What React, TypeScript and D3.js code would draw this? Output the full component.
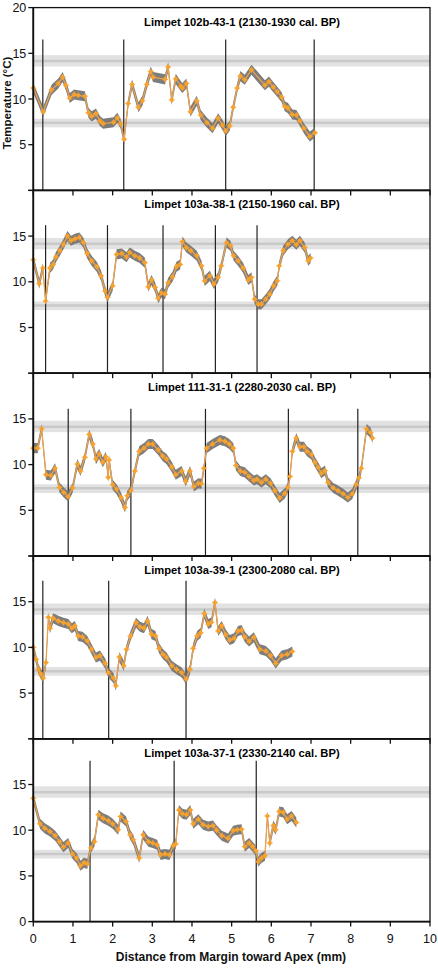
import React from "react";
import * as d3 from "d3";

// distance (mm), temperature (°C)
const limpet102b43 = [
  [0, 11.2], [0.25, 8.6], [0.46, 11.0], [0.63, 11.7], [0.74, 12.4], [0.82, 11.5], [0.92, 10.1],
  [1.03, 10.5], [1.13, 10.4], [1.3, 10.3], [1.39, 8.5], [1.47, 8.1], [1.58, 8.4], [1.68, 7.6],
  [1.76, 7.3], [2.02, 7.45], [2.12, 7.95], [2.2, 7.3], [2.29, 5.6], [2.39, 9.5], [2.49, 11.6],
  [2.65, 9.1], [2.75, 9.8], [2.86, 11.6], [2.96, 13.0], [3.02, 12.4], [3.32, 12.15], [3.4, 13.5],
  [3.49, 9.9], [3.59, 12.2], [3.72, 11.4], [3.76, 11.2], [3.86, 11.7], [3.96, 8.6], [4.12, 9.8],
  [4.22, 8.25], [4.38, 7.4], [4.52, 6.8], [4.66, 7.9], [4.77, 7.15], [4.85, 6.5], [4.95, 7.05],
  [5.04, 9.1], [5.14, 11.2], [5.22, 12.5], [5.33, 12.1], [5.5, 13.2], [5.84, 11.5], [5.94, 11.9],
  [6.05, 11.3], [6.15, 10.8], [6.26, 10.2], [6.34, 9.2], [6.42, 9.0], [6.53, 8.3], [6.63, 8.25],
  [6.72, 7.6], [6.82, 6.8], [6.97, 5.9], [7.1, 6.3],
];
const limpet103a38 = [
  [0, 12.4], [0.15, 9.8], [0.24, 11.5], [0.31, 7.9], [0.42, 11.5], [0.5, 11.9], [0.57, 12.7],
  [0.67, 13.4], [0.76, 14.1], [0.86, 15.0], [0.95, 14.5], [1.05, 14.7], [1.16, 14.85], [1.26, 14.3],
  [1.36, 13.1], [1.47, 12.3], [1.6, 11.65], [1.71, 10.65], [1.81, 9.0], [1.87, 8.3], [2.0, 9.55],
  [2.1, 13.0], [2.23, 13.1], [2.35, 12.7], [2.43, 13.2], [2.56, 12.85], [2.68, 12.6], [2.81, 12.1],
  [2.9, 9.45], [2.98, 10.2], [3.07, 9.4], [3.15, 8.2], [3.23, 8.8], [3.32, 8.65], [3.4, 9.9],
  [3.51, 10.55], [3.61, 11.65], [3.7, 11.9], [3.76, 14.4], [3.86, 13.75], [3.97, 13.4], [4.12, 12.85],
  [4.24, 11.75], [4.32, 10.1], [4.45, 10.65], [4.55, 9.75], [4.66, 10.5], [4.74, 11.75], [4.87, 14.3],
  [4.97, 13.95], [5.05, 12.85], [5.16, 12.3], [5.29, 11.5], [5.42, 10.2], [5.5, 10.5], [5.58, 8.1],
  [5.67, 7.55], [5.75, 7.55], [5.86, 8.1], [5.96, 8.65], [6.06, 9.55], [6.15, 10.1], [6.2, 11.75],
  [6.3, 13.4], [6.42, 14.1], [6.53, 14.5], [6.63, 14.05], [6.72, 14.5], [6.84, 13.75], [6.93, 12.3],
  [6.99, 12.6],
];
const limpet111_31 = [
  [0, 11.8], [0.11, 11.8], [0.21, 13.9], [0.32, 8.9], [0.44, 8.8], [0.55, 9.6], [0.66, 7.5],
  [0.77, 6.95], [0.88, 6.5], [0.99, 7.45], [1.11, 10.05], [1.19, 9.3], [1.3, 10.8], [1.41, 13.3],
  [1.5, 12.25], [1.58, 10.6], [1.66, 11.15], [1.75, 10.25], [1.83, 10.85], [1.89, 8.6], [1.91, 10.5],
  [2.0, 7.8], [2.1, 7.3], [2.21, 6.4], [2.31, 5.3], [2.37, 6.6], [2.46, 7.15], [2.56, 9.3],
  [2.67, 11.45], [2.79, 11.8], [2.9, 12.25], [3.01, 12.25], [3.15, 11.6], [3.26, 10.95], [3.36, 10.6],
  [3.49, 9.75], [3.59, 8.9], [3.74, 9.3], [3.84, 8.15], [3.95, 9.3], [4.05, 7.6], [4.16, 7.95],
  [4.24, 7.9], [4.3, 9.6], [4.37, 11.8], [4.52, 12.25], [4.7, 12.7], [4.83, 12.55], [4.94, 12.25],
  [5.04, 11.8], [5.11, 9.9], [5.22, 9.3], [5.33, 9.15], [5.44, 8.7], [5.56, 8.25], [5.64, 8.4],
  [5.75, 8.05], [5.86, 8.4], [5.98, 7.95], [6.09, 7.15], [6.21, 6.35], [6.34, 6.85], [6.42, 7.5],
  [6.47, 8.7], [6.53, 11.45], [6.63, 12.9], [6.72, 11.95], [6.82, 11.95], [6.9, 11.45], [7.01, 11.1],
  [7.1, 10.25], [7.18, 9.7], [7.26, 9.05], [7.35, 9.35], [7.43, 8.05], [7.56, 7.45], [7.68, 7.15],
  [7.81, 6.8], [7.93, 6.4], [8.04, 6.8], [8.14, 7.8], [8.21, 8.55], [8.27, 9.6], [8.4, 13.9],
  [8.5, 13.5], [8.55, 12.9],
];
const limpet103a39 = [
  [0, 10.0], [0.07, 8.7], [0.13, 7.6], [0.19, 7.1], [0.25, 6.65], [0.32, 8.35], [0.38, 13.3],
  [0.42, 12.1], [0.5, 13.2], [0.63, 12.9], [0.76, 12.7], [0.88, 12.55], [0.97, 12.1], [1.05, 12.35],
  [1.13, 11.25], [1.24, 11.15], [1.36, 10.7], [1.47, 9.8], [1.58, 8.9], [1.68, 9.1], [1.81, 8.25],
  [1.89, 7.25], [2.02, 6.65], [2.08, 5.8], [2.17, 8.95], [2.28, 8.0], [2.35, 9.8], [2.45, 11.25],
  [2.59, 12.7], [2.69, 12.25], [2.79, 12.1], [2.88, 12.9], [2.98, 11.45], [3.08, 11.25], [3.17, 9.9],
  [3.27, 9.25], [3.36, 8.9], [3.49, 8.0], [3.61, 7.6], [3.74, 7.25], [3.85, 6.55], [3.95, 7.6],
  [4.03, 9.9], [4.13, 11.25], [4.22, 11.6], [4.31, 13.7], [4.41, 12.55], [4.49, 12.75], [4.58, 14.9],
  [4.66, 11.8], [4.75, 12.35], [4.85, 11.4], [4.95, 10.8], [5.06, 11.0], [5.16, 11.8], [5.25, 11.9],
  [5.33, 11.15], [5.44, 10.65], [5.56, 11.1], [5.71, 9.8], [5.86, 9.6], [5.98, 9.1], [6.11, 8.25],
  [6.26, 9.1], [6.4, 9.25], [6.53, 9.55],
];
const limpet103a37 = [
  [0, 13.5], [0.17, 10.7], [0.29, 10.2], [0.42, 9.85], [0.55, 9.4], [0.66, 8.75], [0.76, 8.15],
  [0.88, 8.6], [0.99, 7.4], [1.09, 6.95], [1.19, 6.1], [1.28, 6.45], [1.36, 6.3], [1.45, 8.05],
  [1.54, 8.75], [1.64, 11.7], [1.76, 11.3], [1.89, 11.05], [2.0, 10.7], [2.14, 10.05], [2.2, 11.5],
  [2.34, 10.95], [2.44, 9.5], [2.52, 8.95], [2.67, 6.95], [2.77, 9.5], [2.9, 8.75], [3.01, 8.6],
  [3.12, 8.4], [3.21, 7.3], [3.32, 7.4], [3.43, 7.3], [3.53, 8.3], [3.59, 8.5], [3.67, 12.2],
  [3.76, 11.8], [3.86, 11.7], [3.96, 12.2], [4.03, 10.7], [4.16, 11.2], [4.28, 10.6], [4.41, 10.4],
  [4.53, 10.5], [4.62, 10.0], [4.75, 9.4], [4.91, 9.1], [5.04, 9.95], [5.14, 10.05], [5.25, 10.1],
  [5.33, 8.2], [5.44, 8.6], [5.53, 8.2], [5.61, 7.75], [5.67, 6.55], [5.75, 6.95], [5.84, 7.2],
  [5.9, 11.55], [5.96, 8.6], [6.05, 10.5], [6.11, 10.05], [6.2, 12.05], [6.3, 11.95], [6.4, 11.2],
  [6.51, 11.55], [6.63, 10.85],
];

const titles = [
  "Limpet 102b-43-1 (2130-1930 cal. BP)",
  "Limpet 103a-38-1 (2150-1960 cal. BP)",
  "Limpet 111-31-1 (2280-2030 cal. BP)",
  "Limpet 103a-39-1 (2300-2080 cal. BP)",
  "Limpet 103a-37-1 (2330-2140 cal. BP)",
];
const series = [limpet102b43, limpet103a38, limpet111_31, limpet103a39, limpet103a37];
// annual growth-line positions (mm) and how high each line is drawn (°C)
const growthLines = [
  [0.24, 2.28, 4.85, 7.08],
  [0.31, 1.87, 3.27, 4.59, 5.64],
  [0.88, 2.46, 4.34, 6.43, 8.18],
  [0.24, 1.9, 3.85],
  [1.43, 3.55, 5.62],
];
const growthLineTop = [16.5, 16.2, 16.1, 17.3, 17.6];
// reference temperature bands (°C)
const bands = [
  [13.55, 14.15, 14.8],
  [6.9, 7.4, 7.85],
];
const xTicks = [0, 1, 2, 3, 4, 5, 6, 7, 8, 9, 10];
const yTicks = [0, 5, 10, 15, 20];

const W = 438;
const H = 968;
const left = 33.3;
const right = 430;
const top0 = 7.6;
const ph = 182.8;
const font = "Liberation Sans, Arial, sans-serif";
const err = 0.55;

const x = d3.scaleLinear().domain([0, 10]).range([left, right]);

function Panel({ i }: { i: number }) {
  const top = top0 + i * ph;
  const bottom = top + ph;
  const y = d3.scaleLinear().domain([0, 20]).range([bottom, top]);
  const data = series[i] as [number, number][];
  const env = d3
    .area<[number, number]>()
    .x((d) => x(d[0]))
    .y0((d) => y(d[1] - err))
    .y1((d) => y(d[1] + err));
  const line = d3
    .line<[number, number]>()
    .x((d) => x(d[0]))
    .y((d) => y(d[1]));
  const last = i === series.length - 1;
  return (
    <g>
      {bands.map((b, k) => (
        <g key={k}>
          <rect x={left} width={right - left} y={y(b[2])} height={y(b[0]) - y(b[2])} fill="#e2e2e2" />
          <line x1={left} x2={right} y1={y(b[1])} y2={y(b[1])} stroke="#c9c9c9" strokeWidth={2.5} />
        </g>
      ))}
      {growthLines[i].map((g, k) => (
        <line key={k} x1={x(g)} x2={x(g)} y1={y(growthLineTop[i])} y2={bottom} stroke="#222" strokeWidth={1.2} />
      ))}
      <path d={env(data) || ""} fill="#6f6f6f" opacity={0.9} />
      <path d={line(data) || ""} fill="none" stroke="#e9a150" strokeWidth={1.3} />
      {data.map((d, k) => (
        <g key={k} transform={`translate(${x(d[0])},${y(d[1])})`}>
          <circle r={2.1} fill="#f6a22e" />
          <path d="M-3,0H3M0,-3V3" stroke="#f6a22e" strokeWidth={0.9} />
        </g>
      ))}
      <text x={242} y={top + 18} textAnchor="middle" fontFamily={font} fontWeight="bold" fontSize={11.2}>
        {titles[i]}
      </text>
      <rect x={left} y={top} width={right - left} height={ph} fill="none" stroke="#111" strokeWidth={1.3} />
      <line x1={left} x2={left} y1={top} y2={bottom} stroke="#111" strokeWidth={1.8} />
      <line x1={left} x2={right} y1={bottom} y2={bottom} stroke="#111" strokeWidth={1.8} />
      {xTicks.map((t) => (
        <line key={t} x1={x(t)} x2={x(t)} y1={bottom} y2={bottom + 5} stroke="#111" strokeWidth={1.3} />
      ))}
      {yTicks.map((t) => (
        <g key={t}>
          <line x1={left - 5} x2={left} y1={y(t)} y2={y(t)} stroke="#111" strokeWidth={1.3} />
          {(t > 0 && (t < 20 || i === 0)) || (t === 0 && last) ? (
            <text x={left - 7} y={y(t) + 4.5} textAnchor="end" fontFamily={font} fontSize={12.5} fill="#111">
              {t}
            </text>
          ) : null}
        </g>
      ))}
      {last &&
        xTicks.map((t) => (
          <text key={t} x={x(t)} y={bottom + 21} textAnchor="middle" fontFamily={font} fontSize={12.5} fill="#111">
            {t}
          </text>
        ))}
    </g>
  );
}

export default function App() {
  return (
    <svg width={W} height={H} style={{ position: "absolute", left: 0, top: 0, background: "#fff" }}>
      {series.map((_, i) => (
        <Panel key={i} i={i} />
      ))}
      <text
        transform={`translate(11,103) rotate(-90)`}
        textAnchor="middle"
        fontFamily={font}
        fontWeight="bold"
        fontSize={11.5}
        fill="#111"
      >
        Temperature (°C)
      </text>
      <text x={231} y={961} textAnchor="middle" fontFamily={font} fontWeight="bold" fontSize={12} fill="#111">
        Distance from Margin toward Apex (mm)
      </text>
    </svg>
  );
}
